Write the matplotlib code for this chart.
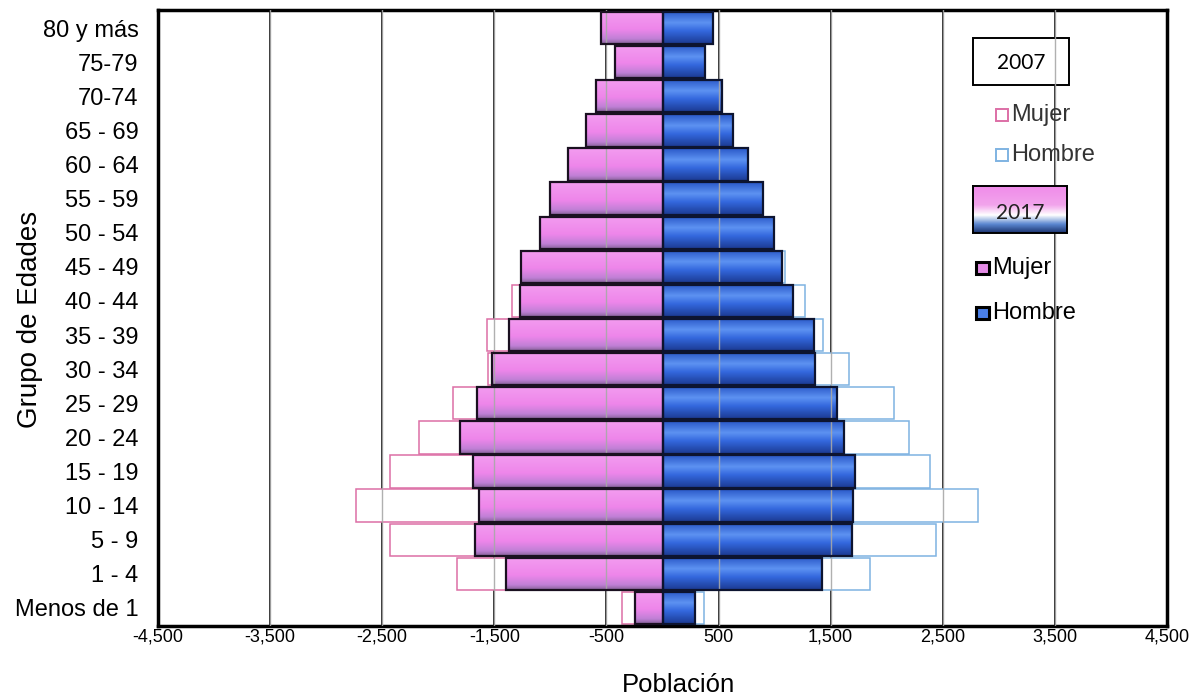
import numpy as np
import matplotlib
matplotlib.use("Agg")
import matplotlib.pyplot as plt
from matplotlib.colors import LinearSegmentedColormap
from matplotlib.patches import Rectangle, FancyBboxPatch

# ---------------- data ----------------
age_groups = ["Menos de 1", "1 - 4", "5 - 9", "10 - 14", "15 - 19", "20 - 24",
              "25 - 29", "30 - 34", "35 - 39", "40 - 44", "45 - 49", "50 - 54",
              "55 - 59", "60 - 64", "65 - 69", "70-74", "75-79", "80 y más"]

mujer_2017 = [249, 1392, 1674, 1638, 1689, 1808, 1659, 1525, 1371, 1273, 1258,
              1095, 1006, 843, 686, 597, 427, 546]
hombre_2017 = [294, 1419, 1689, 1703, 1719, 1621, 1556, 1360, 1354, 1167, 1063,
               997, 893, 760, 626, 531, 383, 448]
mujer_2007 = [359, 1837, 2431, 2736, 2431, 2170, 1873, 1555, 1561, 1338, 1160,
              1036, 830, 700, 560, 480, 380, 420]
hombre_2007 = [374, 1850, 2437, 2817, 2384, 2199, 2066, 1665, 1434, 1273, 1093,
               900, 740, 620, 500, 430, 330, 350]

x_ticks = [-4500, -3500, -2500, -1500, -500, 500, 1500, 2500, 3500, 4500]
x_tick_labels = ["-4,500", "-3,500", "-2,500", "-1,500", "-500", "500",
                 "1,500", "2,500", "3,500", "4,500"]

# ---------------- figure ----------------
W, H = 1193, 696
fig = plt.figure(figsize=(W / 100, H / 100), dpi=100)
ax_l, ax_r, ax_t, ax_b = 158, 1167, 10, 626
ax = fig.add_axes([ax_l / W, 1 - ax_b / H, (ax_r - ax_l) / W, (ax_b - ax_t) / H])

y = np.arange(len(age_groups))
h = 0.95

# 2007 outlines (behind)
ax.barh(y, -np.array(mujer_2007), height=h, color="white", edgecolor="#DD6FA6",
        linewidth=1.1, zorder=2)
ax.barh(y, np.array(hombre_2007), height=h, color="white", edgecolor="#7FB3E2",
        linewidth=1.1, zorder=2)

# 2017 bars with gradient
pink_cmap = LinearSegmentedColormap.from_list(
    "pk", [(0.0, "#F39CF0"), (0.55, "#EE86EA"), (0.85, "#C080D6"), (1.0, "#866298")])
blue_cmap = LinearSegmentedColormap.from_list(
    "bl", [(0.0, "#2A58C8"), (0.35, "#5D92F2"), (0.6, "#3468DE"), (1.0, "#1B3A92")])
grad = np.linspace(0, 1, 64).reshape(-1, 1)

bars_m = ax.barh(y, -np.array(mujer_2017), height=h, color="none",
                 edgecolor="#1a1020", linewidth=1.6, zorder=4)
bars_h = ax.barh(y, np.array(hombre_2017), height=h, color="none",
                 edgecolor="#0d1430", linewidth=1.6, zorder=4)
for bars, cmap in ((bars_m, pink_cmap), (bars_h, blue_cmap)):
    for p in bars:
        x0, y0 = p.get_x(), p.get_y()
        w, hh = p.get_width(), p.get_height()
        xa, xb = min(x0, x0 + w), max(x0, x0 + w)
        im = ax.imshow(grad, cmap=cmap, aspect="auto", origin="upper",
                       extent=(xa, xb, y0, y0 + hh), zorder=3, interpolation="bilinear")
        im.set_clip_path(p)

# grid lines: dark in the open, light grey across the bars
for gx in [-3500, -2500, -1500, -500, 500, 1500, 2500, 3500]:
    ax.axvline(gx, color="#262626", lw=1.4, zorder=1)
    ax.axvline(gx, color="#a8a8a8", lw=1.0, zorder=3.5, alpha=0.9)

ax.set_xlim(-4500, 4500)
ax.set_ylim(-0.53, len(age_groups) - 0.47)
ax.set_xticks(x_ticks)
ax.set_xticklabels(x_tick_labels, family=["Liberation Sans Narrow", "Liberation Sans"],
                   fontsize=13)
ax.set_yticks(y)
ax.set_yticklabels(age_groups, family="Liberation Sans", fontsize=17)
ax.tick_params(axis="both", length=0)
ax.tick_params(axis="y", pad=14)
ax.tick_params(axis="x", pad=2)
for s in ax.spines.values():
    s.set_linewidth(2.5)
    s.set_color("black")

ax.set_xlabel("Población", family="Liberation Sans", fontsize=18.5, va="center")
ax.xaxis.set_label_coords((678 - ax_l) / (ax_r - ax_l), 1 - (685 - ax_t) / (ax_b - ax_t))
ax.set_ylabel("Grupo de Edades", family="Liberation Sans", fontsize=20, va="center")
ax.yaxis.set_label_coords((30 - ax_l) / (ax_r - ax_l), 1 - (319 - ax_t) / (ax_b - ax_t))

# ---------------- custom legend ----------------
def fx(px):
    return (px - ax_l) / (ax_r - ax_l)

def fy(py):
    return 1 - (py - ax_t) / (ax_b - ax_t)

tr = ax.transAxes
# 2007 box
ax.add_patch(Rectangle((fx(973), fy(85)), fx(1069) - fx(973), fy(38) - fy(85),
                       transform=tr, facecolor="white", edgecolor="black",
                       lw=1.4, zorder=2.5))
ax.text(fx(1021), fy(63), "2007", transform=tr, ha="center", va="center",
        fontsize=15, family="Lato", zorder=2.6)

# 2007 items
for py, ec, lbl in ((115, "#DD6FA6", "Mujer"), (155, "#7FB3E2", "Hombre")):
    ax.add_patch(Rectangle((fx(996), fy(py + 6)), fx(1008) - fx(996), fy(py - 6) - fy(py + 6),
                           transform=tr, facecolor="white", edgecolor=ec, lw=1.4,
                           zorder=5))
    ax.text(fx(1011), fy(py), lbl, transform=tr, ha="left", va="center",
            fontsize=17, family="Liberation Sans", color="#333333", zorder=5)

# 2017 gradient box
leg_cmap = LinearSegmentedColormap.from_list(
    "lg", [(0.0, "#F08CEA"), (0.4, "#F2A4EC"), (0.62, "#FFFFFF"), (0.82, "#5A86D0"),
           (1.0, "#1D3570")])
lax = fig.add_axes([973 / W, 1 - 233 / H, 94 / W, 47 / H], zorder=2)
lax.imshow(grad, cmap=leg_cmap, aspect="auto", extent=(0, 1, 0, 1),
           interpolation="bilinear")
lax.set_xlim(0, 1)
lax.set_ylim(0, 1)
lax.set_xticks([])
lax.set_yticks([])
for s in lax.spines.values():
    s.set_linewidth(1.4)
    s.set_color("black")
lax.text(0.5, 0.42, "2017", ha="center", va="center", fontsize=15,
         family="Lato", color="#222222")

# 2017 items
for py, fc, lbl in ((268, "#E48BE6", "Mujer"), (313, "#4A7FE8", "Hombre")):
    ax.add_patch(Rectangle((fx(976), fy(py + 6)), fx(989) - fx(976), fy(py - 6) - fy(py + 6),
                           transform=tr, facecolor=fc, edgecolor="black", lw=2.2,
                           zorder=5))
    ax.text(fx(992), fy(py), lbl, transform=tr, ha="left", va="center",
            fontsize=17, family="Liberation Sans", color="black", zorder=5)

fig.savefig("out.png", dpi=100)
